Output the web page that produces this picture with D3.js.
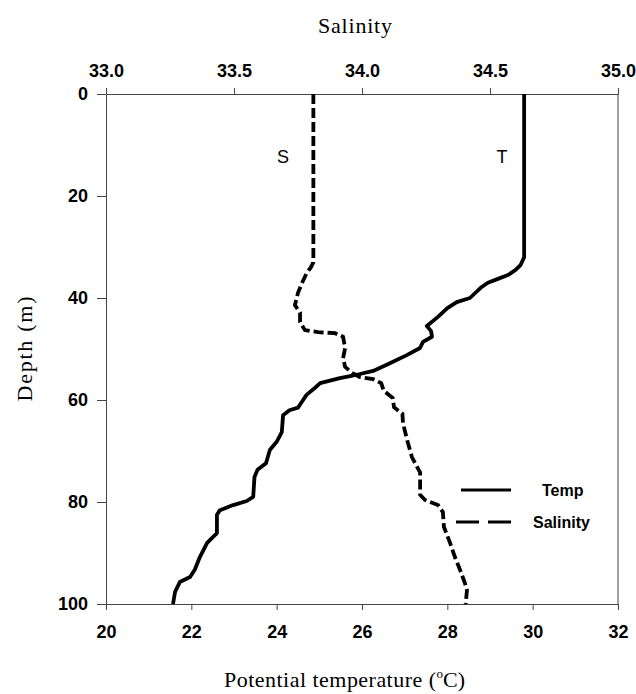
<!DOCTYPE html>
<html>
<head>
<meta charset="utf-8">
<script src="https://cdn.jsdelivr.net/npm/d3@7"></script>
<style>
  body { margin: 0; background: #fff; }
  .tick text { font-family: Arial, "Liberation Sans", sans-serif; font-weight: bold; font-size: 18px; fill: #000; }
  .tick line, .domain { stroke: #444; }
  .title { font-family: "Liberation Serif", "Times New Roman", serif; font-size: 22px; fill: #000; }
  .lbl { font-family: Arial, "Liberation Sans", sans-serif; fill: #000; }
</style>
</head>
<body>
<div id="chart"></div>
<script>
// temperature profile: depth (m) and potential temperature (°C)
const tempDepth = [0, 32, 33.5, 34.5, 35.5, 36.2, 37, 38, 40, 40.8, 42, 43.7, 45.5, 46.5, 47.6, 48.6, 49.8, 51.2, 53.1, 54.3, 54.9, 55.3, 55.7, 56.7, 57.6, 59, 60.5, 61.5, 62, 63, 66.3, 68.2, 69.8, 72.4, 73.7, 75.1, 79, 79.8, 80.6, 81.6, 82.5, 86.1, 88, 90.8, 93.3, 94.7, 95.7, 97.6, 100];
const tempValue = [29.8, 29.8, 29.72, 29.6, 29.42, 29.2, 28.95, 28.78, 28.53, 28.22, 28.0, 27.78, 27.52, 27.62, 27.64, 27.43, 27.36, 27.05, 26.58, 26.26, 25.95, 25.72, 25.48, 25.02, 24.9, 24.7, 24.58, 24.5, 24.3, 24.15, 24.12, 24.0, 23.84, 23.75, 23.55, 23.48, 23.45, 23.3, 22.98, 22.67, 22.6, 22.6, 22.37, 22.2, 22.08, 21.97, 21.73, 21.62, 21.57];

// salinity profile
const salDepth = [0, 33, 34, 35, 37, 39, 41.4, 42.9, 44.7, 46.3, 46.7, 46.9, 47.6, 49.8, 51.8, 53.5, 54.7, 55.5, 55.9, 56.7, 58.2, 59.6, 61.4, 62.7, 64.5, 67.8, 71.2, 73.1, 74.2, 78.6, 79.6, 80.6, 82, 84.9, 88, 90.8, 93.3, 95.9, 97.3, 100];
const salValue = [33.81, 33.81, 33.8, 33.785, 33.766, 33.75, 33.738, 33.758, 33.758, 33.777, 33.828, 33.895, 33.926, 33.934, 33.926, 33.934, 33.961, 33.992, 34.043, 34.075, 34.085, 34.12, 34.125, 34.158, 34.16, 34.176, 34.195, 34.215, 34.227, 34.227, 34.246, 34.297, 34.316, 34.32, 34.344, 34.363, 34.383, 34.402, 34.41, 34.405];

const depthTicks = [0, 20, 40, 60, 80, 100];
const tempTicks = [20, 22, 24, 26, 28, 30, 32];
const salTicks = [33.0, 33.5, 34.0, 34.5, 35.0];

const width = 636;
const height = 694;
const margin = { top: 94, right: 18, bottom: 90, left: 106 };

const svg = d3.select('#chart')
  .append('svg')
  .attr('width', width)
  .attr('height', height);

const xTemp = d3.scaleLinear().domain([20, 32]).range([margin.left, width - margin.right]);
const xSal = d3.scaleLinear().domain([33, 35]).range([margin.left, width - margin.right]);
const y = d3.scaleLinear().domain([0, 100]).range([margin.top, height - margin.bottom]);

// axes
svg.append('g')
  .attr('transform', `translate(${margin.left},0)`)
  .call(d3.axisLeft(y).tickValues(depthTicks).tickSize(9).tickSizeOuter(0).tickPadding(9));

svg.append('g')
  .attr('transform', `translate(0,${y(100)})`)
  .call(d3.axisBottom(xTemp).tickValues(tempTicks).tickSize(6).tickSizeOuter(0).tickPadding(15));

svg.append('g')
  .attr('transform', `translate(0,${y(0)})`)
  .call(d3.axisTop(xSal).tickValues(salTicks).tickFormat(d3.format('.1f')).tickSize(6).tickSizeOuter(0).tickPadding(11));

// right frame line
svg.append('line')
  .attr('x1', xTemp(32)).attr('x2', xTemp(32))
  .attr('y1', y(0)).attr('y2', y(100))
  .attr('stroke', '#444');

// titles
svg.append('text').attr('class', 'title')
  .attr('x', 355).attr('y', 33).attr('text-anchor', 'middle')
  .attr('textLength', 74).attr('lengthAdjust', 'spacing')
  .text('Salinity');

const xt = svg.append('text').attr('class', 'title')
  .attr('x', 224).attr('y', 687);
xt.append('tspan').attr('textLength', 212).attr('lengthAdjust', 'spacing').text('Potential temperature (');
xt.append('tspan').attr('dy', -9).attr('font-size', 13).text('o');
xt.append('tspan').attr('dy', 9).text('C)');

svg.append('text').attr('class', 'title')
  .attr('transform', 'translate(32,349) rotate(-90)')
  .attr('text-anchor', 'middle')
  .attr('textLength', 105).attr('lengthAdjust', 'spacing')
  .text('Depth (m)');

// profiles
const tempLine = d3.line()
  .x(i => xTemp(tempValue[i]))
  .y(i => y(tempDepth[i]));

const salLine = d3.line()
  .x(i => xSal(salValue[i]))
  .y(i => y(salDepth[i]));

svg.append('path')
  .attr('d', tempLine(d3.range(tempDepth.length)))
  .attr('fill', 'none')
  .attr('stroke', '#000')
  .attr('stroke-width', 3.8)
  .attr('stroke-linejoin', 'round');

svg.append('path')
  .attr('d', salLine(d3.range(salDepth.length)))
  .attr('fill', 'none')
  .attr('stroke', '#000')
  .attr('stroke-width', 3.8)
  .attr('stroke-dasharray', '10,4');

// curve labels
svg.append('text').attr('class', 'lbl')
  .attr('x', 283).attr('y', 163).attr('font-size', 18).attr('text-anchor', 'middle')
  .text('S');
svg.append('text').attr('class', 'lbl')
  .attr('x', 502).attr('y', 163).attr('font-size', 18).attr('text-anchor', 'middle')
  .text('T');

// legend
svg.append('line')
  .attr('x1', 461).attr('x2', 511).attr('y1', 490).attr('y2', 490)
  .attr('stroke', '#000').attr('stroke-width', 3);
svg.append('text').attr('class', 'lbl')
  .attr('x', 542).attr('y', 496).attr('font-size', 16).attr('font-weight', 'bold')
  .text('Temp');
svg.append('line')
  .attr('x1', 456).attr('x2', 511).attr('y1', 522).attr('y2', 522)
  .attr('stroke', '#000').attr('stroke-width', 3)
  .attr('stroke-dasharray', '23,9');
svg.append('text').attr('class', 'lbl')
  .attr('x', 533).attr('y', 528).attr('font-size', 16).attr('font-weight', 'bold')
  .text('Salinity');
</script>
</body>
</html>
